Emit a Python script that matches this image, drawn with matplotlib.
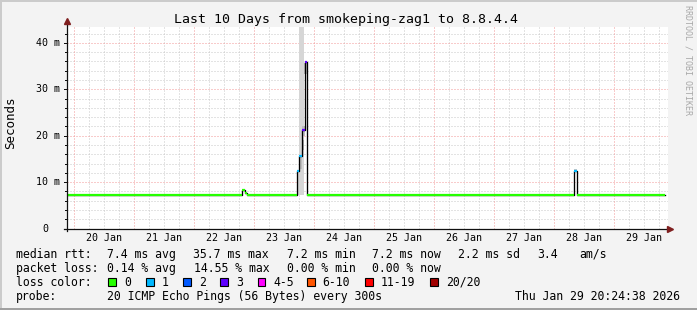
import matplotlib
matplotlib.use('Agg')
import matplotlib.pyplot as plt
import numpy as np
from matplotlib.transforms import offset_copy
from matplotlib.patches import Rectangle
from matplotlib.lines import Line2D

# ---------------- data ----------------
title = "Last 10 Days from smokeping-zag1 to 8.8.4.4"
t_start, t_end = 19.8504, 29.8504          # days (day-of-month, Jan 2026)

# median rtt steps (start time of each step, ms, loss class index)
med_t = [19.8504, 22.800, 22.840, 22.883, 23.707, 23.753, 23.803, 23.837, 23.883, 28.333, 28.383]
med_ms = [7.25, 8.4, 7.6, 7.25, 12.3, 15.6, 21.2, 35.8, 7.25, 12.4, 7.25]
med_loss = [0, 0, 0, 0, 1, 1, 3, 3, 0, 1, 0]

# smoke (ping spread) blocks
smoke_t0 = [23.712, 23.753, 23.753, 23.787, 23.800, 23.830, 28.333]
smoke_t1 = [23.753, 23.820, 23.787, 23.820, 23.845, 23.878, 28.383]
smoke_lo = [7.2, 7.2, 12.8, 17.0, 20.0, 33.4, 12.4]
smoke_hi = [12.3, 44.0, 15.4, 19.0, 22.0, 35.6, 12.9]
smoke_col = ['#d6d6d6', '#d6d6d6', '#bdbdbd', '#a9a9a9', '#bdbdbd', '#bdbdbd', '#c8c8c8']

loss_labels = ['0', '1', '2', '3', '4-5', '6-10', '11-19', '20/20']
loss_colors = ['#26ff00', '#00b8ff', '#0059ff', '#5e00ff', '#ff00ff', '#ff5500', '#ff0000', '#a10000']

y_ticks = [0, 10, 20, 30, 40]
y_labels = ['0', '10 m', '20 m', '30 m', '40 m']
x_label_days = [20, 21, 22, 23, 24, 25, 26, 27, 28, 29]
x_labels = ['%d Jan' % d for d in x_label_days]

legend_rows = [
    ['median rtt:', '7.4 ms avg', '35.7 ms max', '7.2 ms min', '7.2 ms now', '2.2 ms sd', '3.4', 'am/s'],
    ['packet loss:', '0.14 % avg', '14.55 % max', '0.00 % min', '0.00 % now'],
]
probe_label = 'probe:'
probe_text = '20 ICMP Echo Pings (56 Bytes) every 300s'
timestamp = 'Thu Jan 29 20:24:38 2026'
watermark = 'RRDTOOL / TOBI OETIKER'

# ---------------- layout ----------------
W, H = 697, 310
fig = plt.figure(figsize=(W / 100, H / 100), dpi=100)
fig.patch.set_facecolor('#f3f3f3')
MONO = 'DejaVu Sans Mono'

ax_l, ax_r, ax_t, ax_b = 67, 668, 27, 228.5
ax = fig.add_axes([ax_l / W, 1 - ax_b / H, (ax_r - ax_l) / W, (ax_b - ax_t) / H])
ax.set_facecolor('white')
px_per_day = 60.0
x0 = 20 - (74.3 - ax_l) / px_per_day
x1 = x0 + (ax_r - ax_l) / px_per_day
ax.set_xlim(x0, x1)
ax.set_ylim(0, (ax_b - ax_t) / 4.64)
for s in ax.spines.values():
    s.set_visible(False)
ax.set_xticks([])
ax.set_yticks([])

# grid
dot = (0, (1, 2))
ymax = ax.get_ylim()[1]
for v in np.arange(2, ymax, 2):
    if v % 10 != 0:
        ax.axhline(v, color='#c8c8c8', lw=0.72, ls=dot, zorder=1)
for v in np.arange(x0 - x0 % 0.25 + 0.25, x1, 0.25):
    if abs(v - round(v)) > 1e-6:
        ax.axvline(v, color='#c8c8c8', lw=0.72, ls=dot, zorder=1)
for v in y_ticks[1:]:
    ax.axhline(v, color='#f29898', lw=0.72, ls=dot, zorder=1.1)
for v in range(20, 30):
    ax.axvline(v, color='#f29898', lw=0.72, ls=dot, zorder=1.1)

# smoke
for a, b, lo, hi, c in zip(smoke_t0, smoke_t1, smoke_lo, smoke_hi, smoke_col):
    ax.add_patch(Rectangle((a, lo), b - a, hi - lo, facecolor=c, edgecolor='none', zorder=2))

# median: black step + coloured horizontal segments
st = list(med_t) + [t_end]
sv = list(med_ms) + [med_ms[-1]]
ax.step(st, sv, where='post', color='black', lw=0.95, zorder=3)
for i in range(len(med_t)):
    ax.hlines(med_ms[i], st[i], st[i + 1], color=loss_colors[med_loss[i]], lw=1.6, zorder=4)

# axes lines and arrows
axis_c = '#101010'
arrow_c = '#7f1f1f'
ax.add_line(Line2D([0, 0], [-(2.5 / (ax_b - ax_t)), 1 + 4 / (ax_b - ax_t)], transform=ax.transAxes,
                   color=axis_c, lw=0.9, clip_on=False, zorder=6))
ax.add_line(Line2D([-3 / (ax_r - ax_l), 1 + 1 / (ax_r - ax_l)], [0, 0], transform=ax.transAxes,
                   color=axis_c, lw=0.9, clip_on=False, zorder=6))
ax.plot([0], [1 + 6 / (ax_b - ax_t)], marker='^', ms=5, color=arrow_c, transform=ax.transAxes,
        clip_on=False, zorder=7, mec=arrow_c)
ax.plot([1 + 2 / (ax_r - ax_l)], [0], marker='>', ms=5, color=arrow_c, transform=ax.transAxes,
        clip_on=False, zorder=7, mec=arrow_c)

# y tick marks
ytr = ax.get_yaxis_transform()
for v in np.arange(0, ymax, 2):
    ln = 3 if v % 10 == 0 else 2
    ax.add_line(Line2D([-ln / (ax_r - ax_l), 0], [v, v], transform=ytr, color=axis_c, lw=0.72,
                       clip_on=False, zorder=6))

# y labels
char_axis = 0.602 * 7.2 * 100 / 72
for v, lab in zip(y_ticks, y_labels):
    extra = 0 if ' ' in lab else 2 * char_axis
    tr = offset_copy(ytr, fig=fig, x=-(7 + extra), y=0, units='dots')
    ax.text(0, v, lab, transform=tr, ha='right', va='center', fontsize=7.2, family=MONO, color='black')

# x labels (at noon)
xtr = ax.get_xaxis_transform()
for d, lab in zip(x_label_days, x_labels):
    tr = offset_copy(xtr, fig=fig, x=0, y=-12.2, units='dots')
    ax.text(d + 0.5, 0, lab, transform=tr, ha='center', va='baseline', fontsize=7.2, family=MONO)

def ftext(xp, yp, s, **kw):
    kw.setdefault('family', MONO)
    kw.setdefault('fontsize', 8.3)
    kw.setdefault('va', 'baseline')
    fig.text(xp / W, 1 - yp / H, s, **kw)

# title
ftext(346, 23.5, title, fontsize=9.5, ha='center')
# y axis label
ftext(11, 123, 'Seconds', rotation=90, ha='center', va='center', fontsize=9)
# watermark
ftext(688, 60, watermark, rotation=270, ha='center', va='center', fontsize=6, color='#a8a8a8')

# legend
row1_x = [16, 107.3, 193.3, 286.7, 372.3, 458.3, 537, 579.3]
row2_x = [16, 107.3, 194, 286.7, 372.3]
for xs, row, yb in zip([row1_x, row2_x], legend_rows, [257.7, 272.0]):
    for xp, s in zip(xs, row):
        ftext(xp, yb, s)
ftext(16, 285.9, 'loss color:')
label_x = [124, 161.7, 199, 236, 273.3, 322.7, 380.7, 446]
for xp, lab, c in zip(label_x, loss_labels, loss_colors):
    bx = xp - 15.7
    fig.patches.append(Rectangle((bx / W, 1 - 286 / H), 7.6 / W, 7.6 / H, transform=fig.transFigure,
                                 facecolor=c, edgecolor='black', lw=0.8))
    ftext(xp, 285.9, lab)
ftext(16, 300.3, probe_label)
ftext(107.3, 300.3, probe_text)
ftext(680, 300.3, timestamp, ha='right')

# frame
fig.patches.append(Rectangle((0, 0), 2 / W, 1, transform=fig.transFigure, facecolor='#cbcbcb', edgecolor='none'))
fig.patches.append(Rectangle((0, 1 - 2 / H), 1, 2 / H, transform=fig.transFigure, facecolor='#cbcbcb', edgecolor='none'))
fig.patches.append(Rectangle((0, 0), 1, 2.5 / H, transform=fig.transFigure, facecolor='#a0a0a0', edgecolor='none'))

fig.savefig('out.png', dpi=100, facecolor=fig.get_facecolor())
